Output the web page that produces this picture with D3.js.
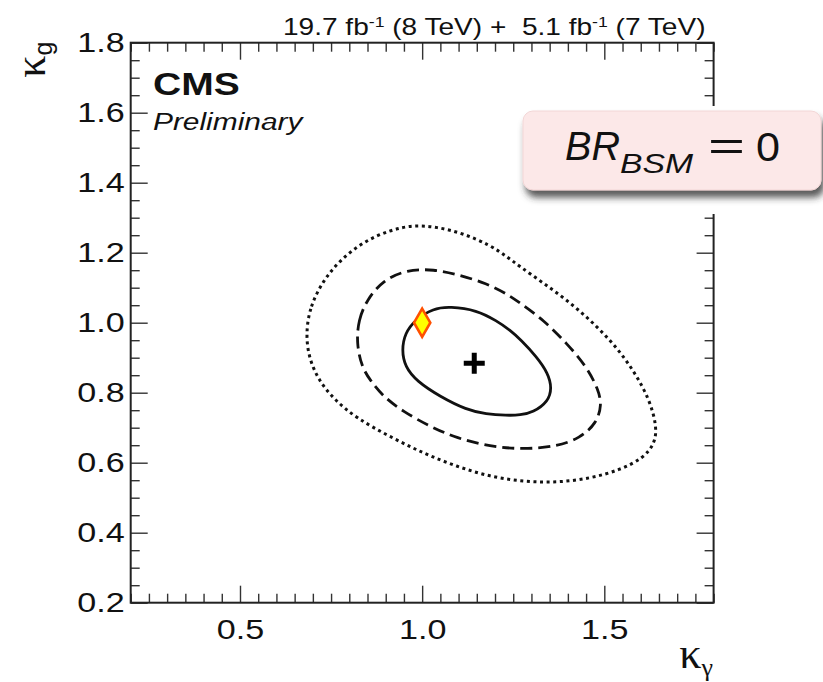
<!DOCTYPE html>
<html>
<head>
<meta charset="utf-8">
<script src="https://cdn.jsdelivr.net/npm/d3@7"></script>
<style>
  html, body { margin: 0; padding: 0; background: #fff; }
  svg { display: block; }
  text { font-family: "Liberation Sans", Arial, Helvetica, sans-serif; fill: #111; }
</style>
</head>
<body>
<svg id="chart" width="823" height="682"></svg>
<script>
// Likelihood scan in the (kappa_gamma, kappa_g) plane, BR_BSM fixed to 0.
const xDomain = [0.2, 1.8];
const yDomain = [0.2, 1.8];
const xMajorTicks = [0.5, 1.0, 1.5];
const yMajorTicks = [0.2, 0.4, 0.6, 0.8, 1.0, 1.2, 1.4, 1.6, 1.8];
const minorStep = 0.05;

// 68% CL contour (solid)
const contour68 = [
  [0.944, 0.922], [0.953, 0.970], [0.980, 1.008], [1.031, 1.041], [1.076, 1.046],
  [1.150, 1.036], [1.205, 1.005], [1.241, 0.979], [1.271, 0.951], [1.314, 0.903],
  [1.346, 0.855], [1.356, 0.813], [1.346, 0.775], [1.305, 0.744], [1.269, 0.736],
  [1.232, 0.735], [1.175, 0.739], [1.122, 0.751], [1.049, 0.789], [0.985, 0.833],
  [0.953, 0.874]
];
// 95% CL contour (dashed)
const contour95 = [
  [0.820, 0.941], [0.825, 1.008], [0.848, 1.065], [0.893, 1.122], [0.958, 1.151],
  [1.031, 1.153], [1.104, 1.136], [1.177, 1.112], [1.232, 1.083], [1.269, 1.056],
  [1.333, 1.008], [1.397, 0.941], [1.452, 0.874], [1.484, 0.808], [1.493, 0.765],
  [1.479, 0.713], [1.433, 0.670], [1.369, 0.646], [1.278, 0.638], [1.186, 0.646],
  [1.095, 0.670], [1.022, 0.703], [0.948, 0.746], [0.893, 0.789], [0.857, 0.836],
  [0.834, 0.874]
];
// 99.7% CL contour (dotted)
const contour997 = [
  [0.681, 0.971], [0.692, 1.046], [0.729, 1.122], [0.775, 1.179], [0.838, 1.231],
  [0.912, 1.265], [0.976, 1.279], [1.040, 1.274], [1.113, 1.255], [1.186, 1.222],
  [1.232, 1.189], [1.269, 1.160], [1.333, 1.113], [1.397, 1.065], [1.461, 1.008],
  [1.525, 0.941], [1.580, 0.865], [1.625, 0.779], [1.644, 0.703], [1.639, 0.655],
  [1.607, 0.613], [1.543, 0.579], [1.461, 0.555], [1.369, 0.543], [1.278, 0.546],
  [1.186, 0.560], [1.095, 0.589], [1.003, 0.627], [0.912, 0.674], [0.820, 0.727],
  [0.760, 0.779], [0.715, 0.836], [0.688, 0.903]
];
const bestFit = [1.143, 0.884];
const smPoint = [1.0, 1.0];

const svg = d3.select("#chart");
const SX = 1.22; // horizontal text stretch

const x = d3.scaleLinear().domain(xDomain).range([130.7, 713.6]);
const y = d3.scaleLinear().domain(yDomain).range([602.7, 42.7]);

const minorValues = (dom) => d3.range(Math.round(dom[0] / minorStep), Math.round(dom[1] / minorStep) + 1)
  .map(i => +(i * minorStep).toFixed(3));
const xMinor = minorValues(xDomain).filter(v => !xMajorTicks.some(m => Math.abs(m - v) < 1e-6));
const yMinor = minorValues(yDomain).filter(v => !yMajorTicks.some(m => Math.abs(m - v) < 1e-6));

const axes = svg.append("g");

function styleAxis(g) {
  g.select(".domain").remove();
  g.selectAll(".tick line").attr("stroke", "#333").attr("stroke-width", 1.4);
}

// bottom
axes.append("g").attr("transform", `translate(0,${y(yDomain[0])})`)
  .call(d3.axisBottom(x).tickValues(xMinor).tickSize(-9).tickFormat(""))
  .call(styleAxis);
const xLab = axes.append("g").attr("transform", `translate(0,${y(yDomain[0])})`)
  .call(d3.axisBottom(x).tickValues(xMajorTicks).tickSize(-17).tickPadding(16.5).tickFormat(d3.format(".1f")))
  .call(styleAxis);
xLab.selectAll(".tick text").attr("font-size", 28).attr("fill", "#111")
  .attr("font-family", "Liberation Sans, Arial, sans-serif").attr("transform", `scale(${SX},1)`);
// top
axes.append("g").attr("transform", `translate(0,${y(yDomain[1])})`)
  .call(d3.axisTop(x).tickValues(xMinor).tickSize(-9).tickFormat(""))
  .call(styleAxis);
axes.append("g").attr("transform", `translate(0,${y(yDomain[1])})`)
  .call(d3.axisTop(x).tickValues(xMajorTicks).tickSize(-17).tickFormat(""))
  .call(styleAxis);
// left
axes.append("g").attr("transform", `translate(${x(xDomain[0])},0)`)
  .call(d3.axisLeft(y).tickValues(yMinor).tickSize(-9).tickFormat(""))
  .call(styleAxis);
const yLab = axes.append("g").attr("transform", `translate(${x(xDomain[0])},0)`)
  .call(d3.axisLeft(y).tickValues(yMajorTicks).tickSize(-17).tickPadding(6 / SX).tickFormat(d3.format(".1f")))
  .call(styleAxis);
yLab.selectAll(".tick text").attr("font-size", 28).attr("fill", "#111")
  .attr("font-family", "Liberation Sans, Arial, sans-serif").attr("transform", `scale(${SX},1)`);
// right
axes.append("g").attr("transform", `translate(${x(xDomain[1])},0)`)
  .call(d3.axisRight(y).tickValues(yMinor).tickSize(-9).tickFormat(""))
  .call(styleAxis);
axes.append("g").attr("transform", `translate(${x(xDomain[1])},0)`)
  .call(d3.axisRight(y).tickValues(yMajorTicks).tickSize(-17).tickFormat(""))
  .call(styleAxis);

// frame
axes.append("rect")
  .attr("x", x(xDomain[0])).attr("y", y(yDomain[1]))
  .attr("width", x(xDomain[1]) - x(xDomain[0])).attr("height", y(yDomain[0]) - y(yDomain[1]))
  .attr("fill", "none").attr("stroke", "#222").attr("stroke-width", 2);

// contours, smoothed through the sampled boundary points
const line = d3.line().x(d => x(d[0])).y(d => y(d[1])).curve(d3.curveBasisClosed);
const plot = svg.append("g");
plot.append("path").attr("d", line(contour997)).attr("fill", "none")
  .attr("stroke", "#111").attr("stroke-width", 3).attr("stroke-dasharray", "3,3.6");
plot.append("path").attr("d", line(contour95)).attr("fill", "none")
  .attr("stroke", "#111").attr("stroke-width", 2.8).attr("stroke-dasharray", "12,6");
plot.append("path").attr("d", line(contour68)).attr("fill", "none")
  .attr("stroke", "#111").attr("stroke-width", 2.8);

// best fit
const bx = x(bestFit[0]), by = y(bestFit[1]);
plot.append("path")
  .attr("d", `M${bx - 10.5},${by}H${bx + 10.5}M${bx},${by - 10.5}V${by + 10.5}`)
  .attr("stroke", "#000").attr("stroke-width", 5);

// SM expectation
plot.append("path")
  .attr("transform", `translate(${x(smPoint[0])},${y(smPoint[1])})`)
  .attr("d", d3.symbol(d3.symbolDiamond, 230)())
  .attr("fill", "#ffff00").attr("stroke", "#ff5000").attr("stroke-width", 2.6);

// text helper with horizontal stretch
function stext(parent, tx, ty, anchor, sx) {
  return parent.append("g").attr("transform", `translate(${tx},${ty}) scale(${sx},1)`)
    .append("text").attr("text-anchor", anchor);
}

// CMS label
stext(svg, 153, 95, "start", SX).attr("font-size", 32).attr("font-weight", "bold").text("CMS");
stext(svg, 153, 129.5, "start", SX).attr("font-size", 24.5).attr("font-style", "italic").text("Preliminary");

// luminosity label
const lumi = stext(svg, 705.5, 35, "end", SX).attr("font-size", 23).attr("xml:space", "preserve");
lumi.append("tspan").text("19.7 fb");
lumi.append("tspan").attr("font-size", 14.5).attr("dy", -8.5).text("-1");
lumi.append("tspan").attr("dy", 8.5).text(" (8 TeV) +\u00a0 5.1 fb");
lumi.append("tspan").attr("font-size", 14.5).attr("dy", -8.5).text("-1");
lumi.append("tspan").attr("dy", 8.5).text(" (7 TeV)");

// axis titles
const xt = stext(svg, 713, 668, "end", 1.0).attr("font-size", 44);
xt.append("tspan").attr("font-family", "Liberation Serif, serif").text("κ");
xt.append("tspan").attr("font-family", "Liberation Serif, serif").attr("font-size", 26).attr("dy", 8).text("γ");

const ytG = svg.append("g").attr("transform", "translate(45,41.7) rotate(-90)");
const yt = ytG.append("text").attr("text-anchor", "end").attr("font-size", 44);
yt.append("tspan").attr("font-family", "Liberation Serif, serif").text("κ");
yt.append("tspan").attr("font-size", 25).attr("dy", 7).text("g");

// BR_BSM badge
const defs = svg.append("defs");
const f = defs.append("filter").attr("id", "shadow").attr("x", "-10%").attr("y", "-20%").attr("width", "130%").attr("height", "160%");
f.append("feDropShadow").attr("dx", 3).attr("dy", 7).attr("stdDeviation", 3.5)
  .attr("flood-color", "#333").attr("flood-opacity", 0.8);

const badge = svg.append("g");
badge.append("rect").attr("x", 516).attr("y", 106).attr("width", 307).attr("height", 108).attr("fill", "#fff");
badge.append("rect").attr("x", 523).attr("y", 111).attr("width", 298).attr("height", 79).attr("rx", 10)
  .attr("fill", "#fce8e8").attr("stroke", "#f2d6d6").attr("stroke-width", 1).attr("filter", "url(#shadow)");
badge.append("text").attr("x", 565).attr("y", 160).attr("font-size", 40).attr("font-style", "italic")
  .attr("textLength", 55).attr("lengthAdjust", "spacingAndGlyphs").text("BR");
badge.append("text").attr("x", 620).attr("y", 173).attr("font-size", 28).attr("font-style", "italic")
  .attr("textLength", 73).attr("lengthAdjust", "spacingAndGlyphs").text("BSM");
badge.append("text").attr("x", 708).attr("y", 160).attr("font-size", 40)
  .attr("textLength", 37).attr("lengthAdjust", "spacingAndGlyphs").text("=");
badge.append("text").attr("x", 756).attr("y", 161).attr("font-size", 40)
  .attr("textLength", 24).attr("lengthAdjust", "spacingAndGlyphs").text("0");
</script>
</body>
</html>
